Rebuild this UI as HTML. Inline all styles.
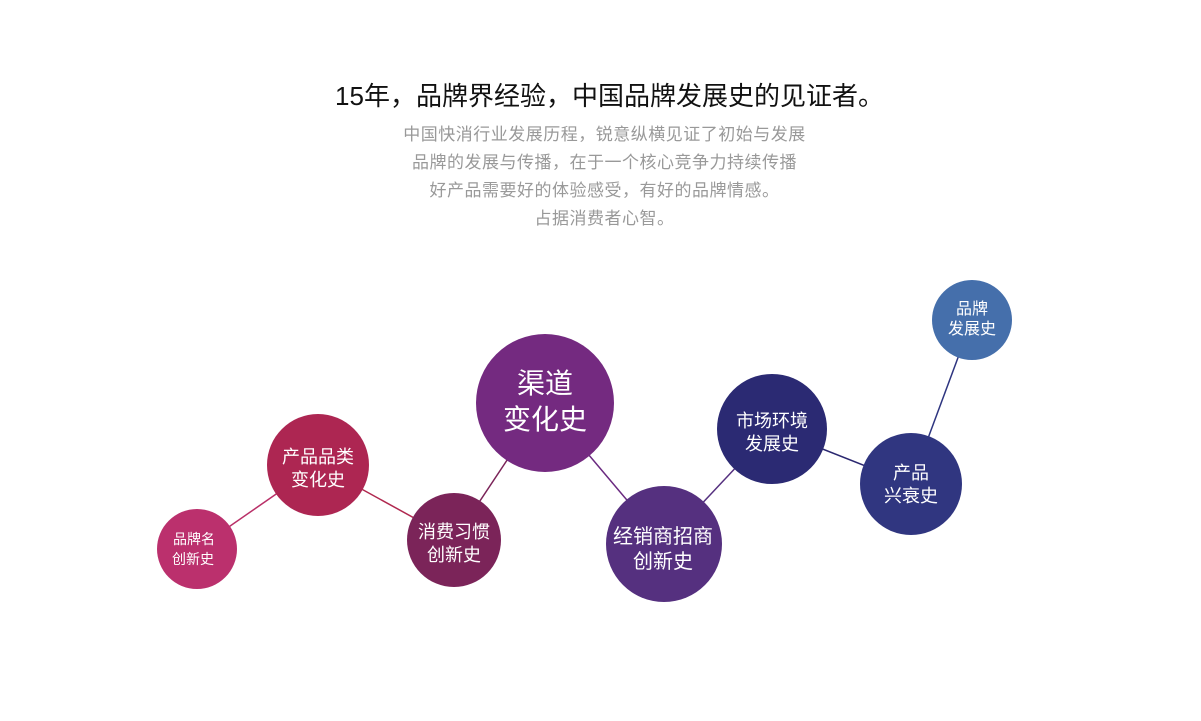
<!DOCTYPE html>
<html><head><meta charset="utf-8"><style>
body{margin:0;width:1201px;height:721px;background:#fff;overflow:hidden;font-family:"Liberation Sans","Noto Sans CJK SC",sans-serif;position:relative}
.t{position:absolute;left:0;width:1201px;text-align:center}
</style></head><body>
<div class="t" style="top:76px;left:9px;font-size:26px;color:#111;">15年，品牌界经验，中国品牌发展史的见证者。</div>
<div class="t" style="top:121px;font-size:17px;letter-spacing:0.5px;line-height:28px;color:#999;left:4px">中国快消行业发展历程，锐意纵横见证了初始与发展<br>品牌的发展与传播，在于一个核心竞争力持续传播<br>好产品需要好的体验感受，有好的品牌情感。<br>占据消费者心智。</div>
<svg width="1201" height="721" style="position:absolute;left:0;top:0" font-family="Liberation Sans, Noto Sans CJK SC, sans-serif" fill="#fff" text-anchor="middle">
<g stroke-width="1.5">
<line x1="197" y1="549" x2="318" y2="465" stroke="#b93068"/>
<line x1="318" y1="465" x2="454" y2="540" stroke="#b0284f"/>
<line x1="454" y1="540" x2="545" y2="403" stroke="#7a2358"/>
<line x1="545" y1="403" x2="664" y2="544" stroke="#6a2a80"/>
<line x1="664" y1="544" x2="772" y2="429" stroke="#55307f"/>
<line x1="772" y1="429" x2="911" y2="484" stroke="#2b2870"/>
<line x1="911" y1="484" x2="972" y2="320" stroke="#2e3580"/>
</g>
<circle cx="197" cy="549" r="40" fill="#bb306d"/>
<circle cx="318" cy="465" r="51" fill="#ad2652"/>
<circle cx="454" cy="540" r="47" fill="#7b2459"/>
<circle cx="545" cy="403" r="69" fill="#742a80"/>
<circle cx="664" cy="544" r="58" fill="#55307f"/>
<circle cx="772" cy="429" r="55" fill="#2b2a73"/>
<circle cx="911" cy="484" r="51" fill="#303680"/>
<circle cx="972" cy="320" r="40" fill="#456fab"/>
<g font-size="14"><text x="194" y="544">品牌名</text><text x="193" y="564">创新史</text></g>
<g font-size="18"><text x="318" y="463">产品品类</text><text x="318" y="486">变化史</text></g>
<g font-size="18"><text x="454" y="538">消费习惯</text><text x="454" y="561">创新史</text></g>
<g font-size="28"><text x="545" y="393">渠道</text><text x="545" y="429">变化史</text></g>
<g font-size="20"><text x="663" y="543">经销商招商</text><text x="663" y="568">创新史</text></g>
<g font-size="18"><text x="772" y="427">市场环境</text><text x="772" y="450">发展史</text></g>
<g font-size="18"><text x="911" y="479">产品</text><text x="911" y="502">兴衰史</text></g>
<g font-size="16"><text x="972" y="314">品牌</text><text x="972" y="334">发展史</text></g>
</svg>
</body></html>
